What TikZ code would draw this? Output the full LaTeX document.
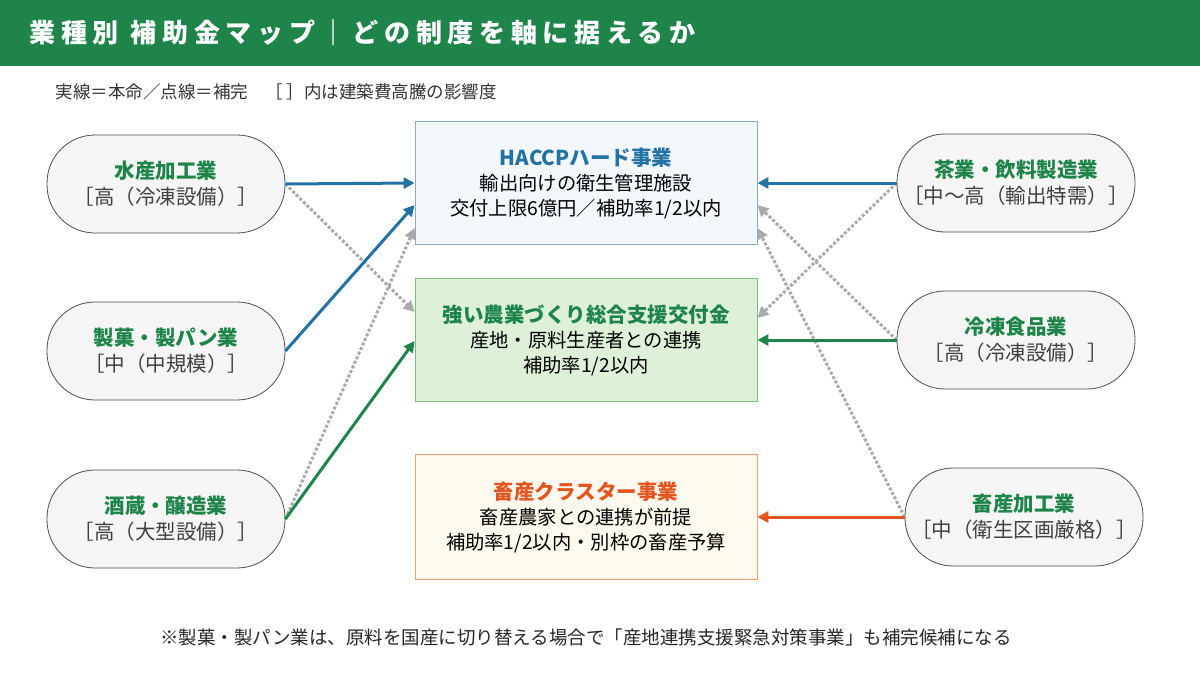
\documentclass[tikz,border=0pt]{standalone}
\usepackage{fontspec}
\setmainfont{Noto Sans CJK JP}
\usetikzlibrary{arrows.meta}
\definecolor{bar}{RGB}{30,132,73}
\definecolor{bl}{RGB}{36,113,163}
\definecolor{gr}{RGB}{30,132,73}
\definecolor{orr}{RGB}{226,85,30}
\definecolor{dotc}{RGB}{170,170,170}
\tikzset{
 stad/.style={draw=black!70,fill=black!4,rounded corners=48pt,minimum width=238pt,minimum height=98pt,align=center,font=\fontsize{20.5}{26}\selectfont,line width=0.8pt},
 box/.style={minimum width=342pt,minimum height=123pt,align=center,font=\fontsize{19.3}{25}\selectfont,line width=0.8pt},
 solid arr/.style={line width=3pt,-{Triangle[length=11pt,width=11pt]}},
 dot arr/.style={dotc,line width=3pt,dotted,-{Triangle[length=11pt,width=11pt]}},
}
\begin{document}
\begin{tikzpicture}[x=1pt,y=-1pt]
\useasboundingbox (0,0) rectangle (1200,675);
\fill[white] (0,0) rectangle (1200,675);
\fill[bar] (0,0) rectangle (1200,66);
\node[anchor=west,text=white,font=\fontsize{26}{30}\selectfont\bfseries\addfontfeature{LetterSpace=22}] (title) at (26,33) {業種別\ 補助金マップ｜どの制度を軸に据えるか};
\node[anchor=west,font=\fontsize{17.5}{20}\selectfont,text=black!80] (sub) at (52,92) {実線＝本命／点線＝補完　［ ］内は建築費高騰の影響度};

\node[stad] (a) at (166,184) {\textcolor{gr}{\bfseries 水産加工業}\\{\color{black!75}［高（冷凍設備）］}};
\node[stad] (b) at (166,351) {\textcolor{gr}{\bfseries 製菓・製パン業}\\{\color{black!75}［中（中規模）］}};
\node[stad] (c) at (166,519) {\textcolor{gr}{\bfseries 酒蔵・醸造業}\\{\color{black!75}［高（大型設備）］}};
\node[stad] (d) at (1016,183) {\textcolor{gr}{\bfseries 茶業・飲料製造業}\\{\color{black!75}［中〜高（輸出特需）］}};
\node[stad] (e) at (1016,340) {\textcolor{gr}{\bfseries 冷凍食品業}\\{\color{black!75}［高（冷凍設備）］}};
\node[stad] (f) at (1024,517) {\textcolor{gr}{\bfseries 畜産加工業}\\{\color{black!75}［中（衛生区画厳格）］}};

\node[box,draw={rgb,255:red,140;green,170;blue,200},fill={rgb,255:red,242;green,247;blue,251}] (h) at (586,183)
 {{\fontsize{20.5}{27}\selectfont\bfseries\color{bl}HACCPハード事業}\\輸出向けの衛生管理施設\\交付上限6億円／補助率1/2以内};
\node[box,draw={rgb,255:red,120;green,190;blue,125},fill={rgb,255:red,223;green,240;blue,216}] (s) at (586,340)
 {{\fontsize{20.5}{27}\selectfont\bfseries\color{gr}強い農業づくり総合支援交付金}\\産地・原料生産者との連携\\補助率1/2以内};
\node[box,draw={rgb,255:red,240;green,160;blue,112},fill={rgb,255:red,254;green,249;blue,238},minimum height=125pt] (k) at (586,517)
 {{\fontsize{20.5}{27}\selectfont\bfseries\color{orr}畜産クラスター事業}\\畜産農家との連携が前提\\補助率1/2以内・別枠の畜産予算};

\draw[dot arr] (a.east) -- ([yshift=28pt]s.west);
\draw[dot arr] (c.east) -- ([yshift=-45pt]h.west);
\draw[dot arr] (d.west) -- ([yshift=22pt]s.east);
\draw[dot arr] (e.west) -- ([yshift=-22pt]h.east);
\draw[dot arr] (f.west) -- ([yshift=-45pt]h.east);
\draw[solid arr,bl] (a.east) -- (h.west);
\draw[solid arr,bl] (b.east) -- ([yshift=-22pt]h.west);
\draw[solid arr,gr] (c.east) -- ([yshift=-1pt]s.west);
\draw[solid arr,bl] (d.west) -- (h.east);
\draw[solid arr,gr] (e.west) -- (s.east);
\draw[solid arr,orr] (f.west) -- (k.east);

\node[font=\fontsize{18.5}{22}\selectfont,text=black!85] (note) at (586,637) {※製菓・製パン業は、原料を国産に切り替える場合で「産地連携支援緊急対策事業」も補完候補になる};
\end{tikzpicture}
\end{document}
